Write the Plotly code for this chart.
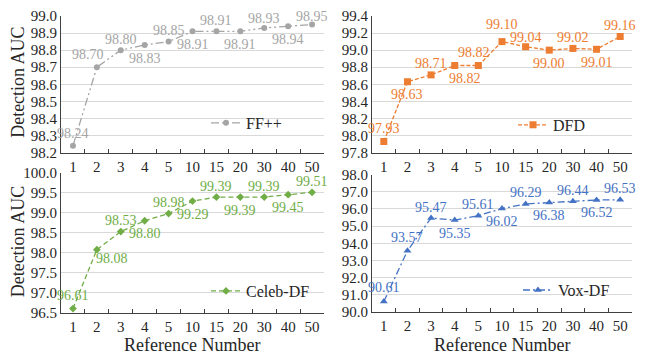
import plotly.graph_objects as go

ref_numbers = ["1", "2", "3", "4", "5", "10", "15", "20", "30", "40", "50"]

ffpp_auc = [98.24, 98.70, 98.80, 98.83, 98.85, 98.91, 98.91, 98.91, 98.93, 98.94, 98.95]
dfd_auc = [97.93, 98.63, 98.71, 98.82, 98.82, 99.10, 99.04, 99.00, 99.02, 99.01, 99.16]
celeb_auc = [96.61, 98.08, 98.53, 98.80, 98.98, 99.29, 99.39, 99.39, 99.39, 99.45, 99.51]
vox_auc = [90.61, 93.57, 95.47, 95.35, 95.61, 96.02, 96.29, 96.38, 96.44, 96.52, 96.53]

series_names = ["FF++", "DFD", "Celeb-DF", "Vox-DF"]

# the page body has an 8px default margin: lay out in screen pixels, then offset
OFF = 8
W, H = 645 - OFF, 364 - OFF
FONT = "Liberation Serif"


def px(x):
    return min(1.0, max(0.0, (x - OFF) / W))


def py(y):
    return min(1.0, max(0.0, 1 - (y - OFF) / H))


# label offsets (x shift, y shift) in pixels for each point's data label
U, D = (0, 11), (0, -13)
label_shift = [
    [(0, 12), (-9, 13), U, D, U, D, U, D, (0, 9), D, (0, 8)],
    [(0, 13), D, U, (10, -13), (-4, 13), (0, 17), (0, 9), D, U, D, U],
    [(0, 13), (15, -9), U, D, U, D, U, D, U, D, U],
    [(0, 14), (0, 13), U, D, U, D, U, D, U, D, U],
]

colors = ["#A5A5A5", "#ED7D31", "#70AD47", "#4472C4"]
symbols = ["circle", "square", "diamond", "triangle-up"]
msizes = [6, 7, 6, 7]
dashes = ["8px,3px,2px,3px,2px,3px", "4px,2px", "5px,3px", "7px,3px,2px,3px"]
data = [ffpp_auc, dfd_auc, celeb_auc, vox_auc]

# plot areas in screen pixels: (x0, x1, ytop, ybottom)
boxes = [(61, 324, 8, 151), (372, 632, 8, 151), (61, 324, 172, 319), (372, 632, 174, 318)]
yranges = [(98.2, 99.0, 0.1), (97.8, 99.4, 0.2), (96.5, 100.0, 0.5), (90.0, 98.0, 1.0)]
legend_xy = [(206, 120), (513, 122), (206, 296), (518, 295)]

fig = go.Figure()
layout = dict(
    width=W, height=H, margin=dict(l=0, r=0, t=0, b=0),
    paper_bgcolor="white", plot_bgcolor="white",
    font=dict(family=FONT, size=15, color="#404040"),
    showlegend=True,
)

annotations = []
for i in range(4):
    sfx = "" if i == 0 else str(i + 1)
    fig.add_trace(go.Scatter(
        x=ref_numbers, y=data[i], name=series_names[i],
        mode="lines+markers",
        line=dict(color=colors[i], width=1.3, dash=dashes[i]),
        marker=dict(symbol=symbols[i], size=msizes[i], color=colors[i]),
        xaxis="x" + sfx, yaxis="y" + sfx,
        legend="legend" + sfx, cliponaxis=False,
    ))
    for j, (v, (dx, dy)) in enumerate(zip(data[i], label_shift[i])):
        annotations.append(dict(
            x=j, y=v, xref="x" + sfx, yref="y" + sfx, text=f"{v:.2f}",
            showarrow=False, xshift=dx, yshift=dy,
            xanchor="center", yanchor="middle",
            font=dict(family=FONT, size=14, color=colors[i]),
        ))
    x0, x1, yt, yb = boxes[i]
    lo, hi, dt = yranges[i]
    layout["xaxis" + sfx] = dict(
        domain=[px(x0), px(x1)], anchor="y" + sfx, type="category",
        range=[-0.5, 10.5], tickson="boundaries", ticks="inside", ticklen=4,
        tickcolor="#404040", showline=True, linecolor="#404040", linewidth=1,
        showgrid=False, tickangle=0,
        tickfont=dict(family=FONT, size=15, color="#262626"),
        fixedrange=True,
    )
    layout["yaxis" + sfx] = dict(
        domain=[py(yb), py(yt)], anchor="x" + sfx,
        range=[lo, hi], dtick=dt, tick0=lo, tickformat=".1f",
        showline=True, linecolor="#404040", linewidth=1,
        showgrid=True, gridcolor="#D9D9D9", gridwidth=1, zeroline=False,
        ticks="", tickfont=dict(family=FONT, size=15, color="#262626"),
        fixedrange=True,
    )
    lx, ly = legend_xy[i]
    layout["legend" + sfx] = dict(
        x=px(lx), y=py(ly), xanchor="left", yanchor="middle",
        bgcolor="rgba(0,0,0,0)", font=dict(family=FONT, size=16, color="#262626"),
        itemwidth=30, borderwidth=0,
    )

titles = [
    dict(text="Detection AUC", x=px(18), y=py(78), textangle=-90),
    dict(text="Detection AUC", x=px(18), y=py(245), textangle=-90),
    dict(text="Reference Number", x=px(192), y=py(352)),
    dict(text="Reference Number", x=px(502), y=py(352)),
]
for a in titles:
    annotations.append(dict(xref="paper", yref="paper", showarrow=False,
                            xanchor="center", yanchor="middle",
                            font=dict(family=FONT, size=18, color="#262626"), **a))

layout["annotations"] = annotations
fig.update_layout(**layout)

fig.write_html("out.html")
